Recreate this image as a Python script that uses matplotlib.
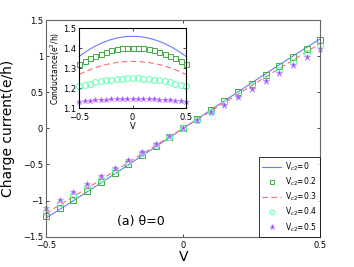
import numpy as np
import matplotlib
matplotlib.use('Agg')
import matplotlib.pyplot as plt

# bias voltage grid (21 points, -0.5 .. 0.5)
V = [-0.5, -0.45, -0.4, -0.35, -0.3, -0.25, -0.2, -0.15, -0.1, -0.05, 0.0,
     0.05, 0.1, 0.15, 0.2, 0.25, 0.3, 0.35, 0.4, 0.45, 0.5]

labels = ['V$_{c2}$=0', 'V$_{c2}$=0.2', 'V$_{c2}$=0.3', 'V$_{c2}$=0.4', 'V$_{c2}$=0.5']

# charge current (e/h), positive half; the curves are odd in V
half_I0 = [0.127, 0.254, 0.380, 0.506, 0.631, 0.756, 0.879, 1.001, 1.122, 1.241]
half_I2 = [0.125, 0.248, 0.372, 0.497, 0.620, 0.745, 0.865, 0.985, 1.100, 1.220]
half_I3 = [0.119, 0.237, 0.356, 0.474, 0.592, 0.710, 0.827, 0.944, 1.060, 1.177]
half_I4 = [0.116, 0.232, 0.348, 0.464, 0.580, 0.695, 0.810, 0.925, 1.040, 1.155]
half_I5 = [0.110, 0.220, 0.330, 0.440, 0.550, 0.660, 0.770, 0.880, 0.990, 1.100]

# conductance (e^2/h), from V=0 to 0.5; the curves are even in V
half_G0 = [1.460, 1.459, 1.456, 1.451, 1.444, 1.435, 1.424, 1.411, 1.396, 1.379, 1.360]
half_G2 = [1.403, 1.402, 1.400, 1.396, 1.390, 1.382, 1.373, 1.363, 1.350, 1.336, 1.320]
half_G3 = [1.335, 1.334, 1.332, 1.329, 1.325, 1.319, 1.312, 1.303, 1.293, 1.282, 1.270]
half_G4 = [1.250, 1.250, 1.248, 1.246, 1.244, 1.240, 1.236, 1.230, 1.224, 1.218, 1.210]
half_G5 = [1.147, 1.147, 1.146, 1.146, 1.145, 1.144, 1.142, 1.140, 1.138, 1.136, 1.133]


def odd(h):
    return [-v for v in h[::-1]] + [0.0] + list(h)


def even(h):
    return list(h[::-1]) + list(h[1:])


I_all = [odd(h) for h in (half_I0, half_I2, half_I3, half_I4, half_I5)]
G_all = [even(h) for h in (half_G0, half_G2, half_G3, half_G4, half_G5)]

blue = '#6a7dff'
green = '#3fae3f'
red = '#ff6b6b'
cyan = '#5cffb0'
purple = '#9b3cff'

styles = [
    dict(color=blue, lw=0.8, ls='-'),
    dict(color=green, ls='none', marker='s', mfc='none', mec=green, mew=0.7),
    dict(color=red, lw=0.8, ls=(0, (5, 3))),
    dict(color=cyan, ls='none', marker='o', mfc='none', mec=cyan, mew=0.7),
    dict(color=purple, ls='none', marker='*', mfc=purple, mec='#c58cff', mew=0.5),
]

plt.rcParams['font.family'] = ['DejaVu Sans']
plt.rcParams['xtick.direction'] = 'in'
plt.rcParams['ytick.direction'] = 'in'

fig = plt.figure(figsize=(3.54, 2.67), dpi=100)
ax = fig.add_axes([0.130, 0.1135, 0.775, 0.8115])

msizes = [0, 4.5, 0, 4.5, 5.0]
for I, st, lab, ms in zip(I_all, styles, labels, msizes):
    ax.plot(V, I, label=lab, ms=ms, clip_on=False, **st)

ax.set_xlim(-0.5, 0.5)
ax.set_ylim(-1.5, 1.5)
ax.set_xticks([-0.5, 0, 0.5])
ax.set_xticklabels(['\u22120.5', '0', '0.5'])
ax.set_yticks([-1.5, -1, -0.5, 0, 0.5, 1, 1.5])
ax.set_yticklabels(['\u22121.5', '\u22121', '\u22120.5', '0', '0.5', '1', '1.5'])
ax.tick_params(labelsize=6, length=2.5, width=0.5, top=True, right=True, pad=2)
ax.tick_params(axis='x', pad=3)
for sp in ax.spines.values():
    sp.set_color('#666666')
    sp.set_linewidth(0.8)
ax.set_xlabel('V', fontsize=10, labelpad=0)
ax.set_ylabel('Charge current(e/h)', fontsize=10, labelpad=6)
ax.text(-0.155, -1.29, '(a) \u03b8=0', fontsize=9, ha='center', va='center')

leg = ax.legend(loc='lower right', fontsize=5.5, borderaxespad=0, frameon=True,
                fancybox=False, handlelength=2.4, labelspacing=0.35,
                borderpad=0.4, handletextpad=0.6, markerscale=0.75)
leg.get_frame().set_edgecolor('black')
leg.get_frame().set_linewidth(0.7)
leg.set_zorder(5)

# inset: conductance
axi = fig.add_axes([0.224, 0.594, 0.301, 0.300])
axi.set_zorder(4)
msizes_in = [0, 3.6, 0, 4.2, 4.2]
for G, st, ms in zip(G_all, styles, msizes_in):
    axi.plot(V, G, ms=ms, clip_on=False, **st)
axi.set_xlim(-0.5, 0.5)
axi.set_ylim(1.1, 1.5)
axi.set_xticks([-0.5, 0, 0.5])
axi.set_xticklabels(['\u22120.5', '0', '0.5'])
axi.set_yticks([1.1, 1.2, 1.3, 1.4, 1.5])
axi.tick_params(labelsize=6, length=2, width=0.5, top=True, right=True, pad=2)
axi.tick_params(axis='x', pad=3)
for sp in axi.spines.values():
    sp.set_color('black')
    sp.set_linewidth(0.8)
axi.set_xlabel('V', fontsize=6, labelpad=0)
axi.set_ylabel('Conductance(e$^2$/h)', fontsize=5.5, labelpad=1)

fig.savefig('out.png', dpi=100)
